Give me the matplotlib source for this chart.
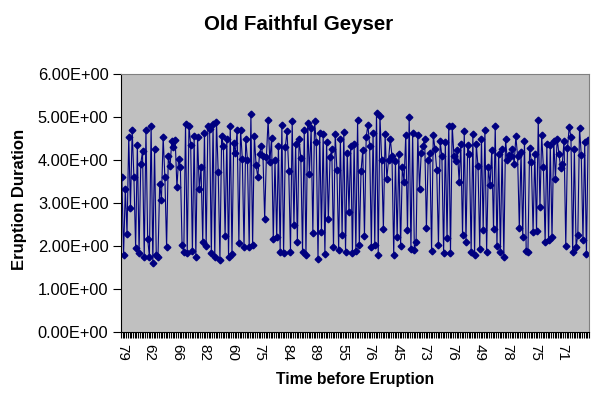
import matplotlib.pyplot as plt
from matplotlib.ticker import FixedLocator, FuncFormatter

# Old Faithful: waiting time (min) and eruption duration (min), in order
waiting = [
    79, 54, 74, 62, 85, 55, 88, 85, 51, 85, 54, 84, 78, 47, 83, 52, 62, 84, 52, 79,
    51, 47, 78, 69, 74, 83, 55, 76, 78, 79, 73, 77, 66, 80, 74, 52, 48, 80, 59, 90,
    80, 58, 84, 58, 73, 83, 64, 53, 82, 59, 75, 90, 54, 80, 54, 83, 71, 64, 77, 81,
    59, 84, 48, 82, 60, 92, 78, 78, 65, 73, 82, 56, 79, 71, 62, 76, 60, 78, 76, 83,
    75, 82, 70, 65, 73, 88, 76, 80, 48, 86, 60, 90, 50, 78, 63, 72, 84, 75, 51, 82,
    62, 88, 49, 83, 81, 47, 84, 52, 86, 81, 75, 59, 89, 79, 59, 81, 50, 85, 59, 87,
    53, 69, 77, 56, 88, 81, 45, 82, 55, 90, 45, 83, 56, 89, 46, 82, 51, 86, 53, 79,
    81, 60, 82, 77, 76, 59, 80, 49, 96, 53, 77, 77, 65, 81, 71, 70, 81, 93, 53, 89,
    45, 86, 58, 78, 66, 76, 63, 88, 52, 93, 49, 57, 77, 68, 81, 81, 73, 50, 85, 74,
    55, 77, 83, 83, 51, 78, 84, 46, 83, 55, 81, 57, 76, 84, 77, 81, 87, 77, 51, 78,
    60, 82, 91, 53, 78, 46, 77, 84, 49, 83, 71, 80, 49, 75, 64, 76, 53, 94, 55, 76,
    50, 82, 54, 75, 78, 79, 78, 78, 70, 79, 70, 54, 86, 50, 90, 54, 54, 77, 79, 64,
    75, 47, 86, 63, 85, 82, 57, 82, 67, 74, 54, 83, 73, 73, 88, 80, 71, 83, 56, 79,
    78, 84, 58, 83, 43, 60, 75, 81, 46, 90, 46, 74,
]
eruptions = [
    3.600, 1.800, 3.333, 2.283, 4.533, 2.883, 4.700, 3.600, 1.950, 4.350,
    1.833, 3.917, 4.200, 1.750, 4.700, 2.167, 1.750, 4.800, 1.600, 4.250,
    1.800, 1.750, 3.450, 3.067, 4.533, 3.600, 1.967, 4.083, 3.850, 4.433,
    4.300, 4.467, 3.367, 4.033, 3.833, 2.017, 1.867, 4.833, 1.833, 4.783,
    4.350, 1.883, 4.567, 1.750, 4.533, 3.317, 3.833, 2.100, 4.633, 2.000,
    4.800, 4.716, 1.833, 4.833, 1.733, 4.883, 3.717, 1.667, 4.567, 4.317,
    2.233, 4.500, 1.750, 4.800, 1.817, 4.400, 4.167, 4.700, 2.067, 4.700,
    4.033, 1.967, 4.500, 4.000, 1.983, 5.067, 2.017, 4.567, 3.883, 3.600,
    4.133, 4.333, 4.100, 2.633, 4.067, 4.933, 3.950, 4.517, 2.167, 4.000,
    2.200, 4.333, 1.867, 4.817, 1.833, 4.300, 4.667, 3.750, 1.867, 4.900,
    2.483, 4.367, 2.100, 4.500, 4.050, 1.867, 4.700, 1.783, 4.850, 3.683,
    4.733, 2.300, 4.900, 4.417, 1.700, 4.633, 2.317, 4.600, 1.817, 4.417,
    2.617, 4.067, 4.250, 1.967, 4.600, 3.767, 1.917, 4.500, 2.267, 4.650,
    1.867, 4.167, 2.800, 4.333, 1.833, 4.383, 1.883, 4.933, 2.033, 3.733,
    4.233, 2.233, 4.533, 4.817, 4.333, 1.983, 4.633, 2.017, 5.100, 1.800,
    5.033, 4.000, 2.400, 4.600, 3.567, 4.000, 4.500, 4.083, 1.800, 3.967,
    2.200, 4.150, 2.000, 3.833, 3.500, 4.583, 2.367, 5.000, 1.933, 4.617,
    1.917, 2.083, 4.583, 3.333, 4.167, 4.333, 4.500, 2.417, 4.000, 4.167,
    1.883, 4.583, 4.250, 3.767, 2.033, 4.433, 4.083, 1.833, 4.417, 2.183,
    4.800, 1.833, 4.800, 4.100, 3.966, 4.233, 3.500, 4.366, 2.250, 4.667,
    2.100, 4.350, 4.133, 1.867, 4.600, 1.783, 4.367, 3.850, 1.933, 4.500,
    2.383, 4.700, 1.867, 3.833, 3.417, 4.233, 2.400, 4.800, 2.000, 4.150,
    1.867, 4.267, 1.750, 4.483, 4.000, 4.117, 4.083, 4.267, 3.917, 4.550,
    4.083, 2.417, 4.183, 2.217, 4.450, 1.883, 1.850, 4.283, 3.950, 2.333,
    4.150, 2.350, 4.933, 2.900, 4.583, 3.833, 2.083, 4.367, 2.133, 4.350,
    2.200, 4.450, 3.567, 4.500, 4.150, 3.817, 3.917, 4.450, 2.000, 4.283,
    4.767, 4.533, 1.850, 4.250, 1.983, 2.250, 4.750, 4.117, 2.150, 4.417,
    1.817, 4.467,
]
label_step = 16

plt.rcParams["font.family"] = ["Liberation Sans", "DejaVu Sans"]

fig = plt.figure(figsize=(5.97, 3.95), dpi=100)
ax = fig.add_axes([121 / 597, 63 / 395, 468 / 597, 258 / 395])
ax.set_facecolor("#C0C0C0")

n = len(eruptions)
xs = [i + 0.5 for i in range(n)]
ax.plot(xs, eruptions, color="#000080", linewidth=0.8, marker="D",
        markersize=3.4, markerfacecolor="#000080", markeredgecolor="#000080")

ax.set_xlim(0, n)
ax.set_ylim(0, 6)
ax.set_yticks(range(0, 7))
ax.yaxis.set_major_formatter(FuncFormatter(lambda v, p: f"{v:.2E}"))

# category axis: a small tick per point, a label every 16th point
major = list(range(0, n, label_step))
ax.xaxis.set_major_locator(FixedLocator([m + 0.5 for m in major]))
ax.set_xticklabels([str(waiting[m]) for m in major], rotation=270)
ax.xaxis.set_minor_locator(FixedLocator(list(range(0, n + 1))))
ax.tick_params(axis="x", which="major", length=0, pad=9, labelsize=11)
ax.tick_params(axis="x", which="minor", length=4, width=0.8)
ax.tick_params(axis="y", length=6, width=0.8, labelsize=11.8, pad=3)

for s in ax.spines.values():
    s.set_color("black")
    s.set_linewidth(0.8)
ax.spines["right"].set_color("#808080")
ax.spines["top"].set_color("#808080")

fig.text(0.5, 1 - 25 / 395, "Old Faithful Geyser", ha="center", va="center",
         fontsize=14.8, fontweight="bold")
ax.set_xlabel("Time before Eruption", fontsize=11.3, fontweight="bold")
ax.set_ylabel("Eruption Duration", fontsize=12, fontweight="bold")
ax.xaxis.set_label_coords(0.5, -0.186)
ax.yaxis.set_label_coords(-0.216, 0.512)
ax.xaxis.label.set_va("center")
ax.yaxis.label.set_va("center")

fig.savefig("out.png", dpi=100)
